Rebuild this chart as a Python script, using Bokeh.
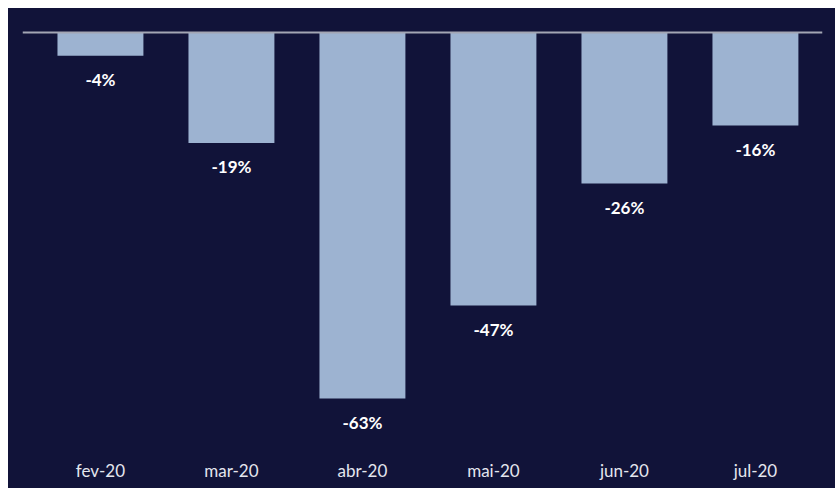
from bokeh.plotting import figure
from bokeh.models import ColumnDataSource, Range1d, FixedTicker, LabelSet, Span, Spacer
from bokeh.core.properties import value
from bokeh.layouts import column, row
from bokeh.embed import file_html
from bokeh.resources import INLINE

months = ["fev-20", "mar-20", "abr-20", "mai-20", "jun-20", "jul-20"]
values = [-4, -19, -63, -47, -26, -16]
labels = ["-4%", "-19%", "-63%", "-47%", "-26%", "-16%"]

BG = "#111339"
BAR = "#9db3d1"

xs = list(range(len(months)))
src = ColumnDataSource(dict(x=xs, top=[0] * len(xs), bottom=values, lab=labels))

p = figure(width=827, height=480, output_backend="svg", toolbar_location=None,
           x_range=Range1d(-0.595, 5.512), y_range=Range1d(-71.6, 2.07),
           background_fill_color=None, border_fill_color=None,
           min_border_left=14, min_border_right=13, min_border_top=12, min_border_bottom=40)
p.styles = {"background-color": BG}
p.outline_line_color = None
p.grid.visible = False
p.yaxis.visible = False

p.vbar(x="x", top="top", bottom="bottom", width=0.656, source=src,
       fill_color=BAR, line_color=None)

p.add_layout(Span(location=0, dimension="width", line_color="#a3a6b4", line_width=2))

ls = LabelSet(x="x", y="bottom", text="lab", source=src, y_offset=-24,
              text_align="center", text_baseline="middle", text_color="#ffffff",
              text_font=value("Lato"), text_font_style="bold", text_font_size="17px")
p.add_layout(ls)

ax = p.xaxis[0]
ax.ticker = FixedTicker(ticks=xs)
ax.major_label_overrides = {i: m for i, m in enumerate(months)}
ax.axis_line_color = None
ax.major_tick_line_color = None
ax.minor_tick_line_color = None
ax.major_label_standoff = 5
ax.major_label_text_color = "#e4e6ee"
ax.major_label_text_font = "Lato"
ax.major_label_text_font_size = "17px"

layout = column(Spacer(height=8), row(Spacer(width=8), p), spacing=0)
open("out.html", "w").write(file_html(layout, INLINE))
